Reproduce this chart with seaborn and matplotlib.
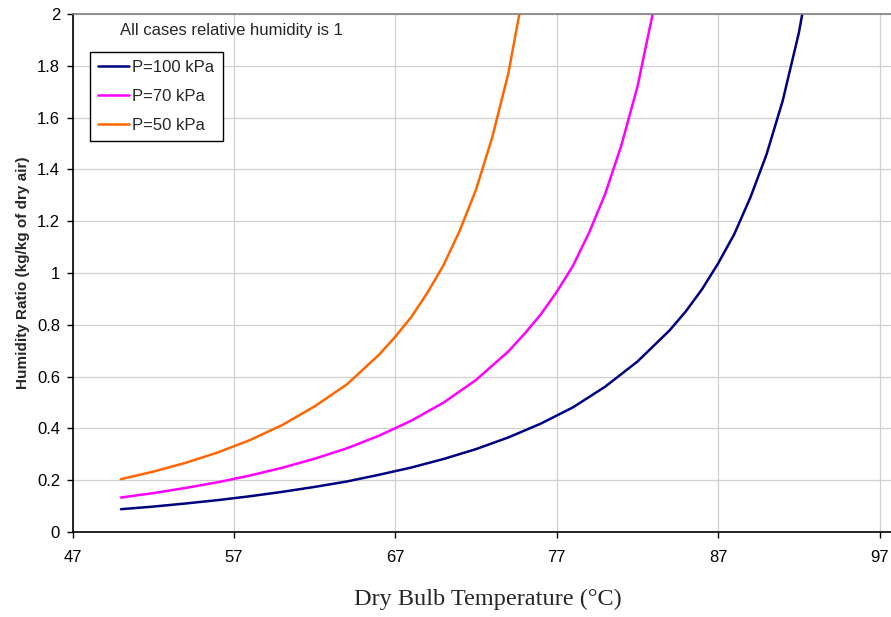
import matplotlib
matplotlib.use('Agg')
import matplotlib.pyplot as plt
import seaborn as sns

# Saturated humidity ratio (relative humidity = 1)
temp_100 = [50, 52, 54, 56, 58, 60, 62, 64, 66, 68, 70, 72, 74, 76, 78, 80, 82, 84, 85, 86, 87, 88, 89, 90, 91, 92, 93]
w_100 = [0.088, 0.098, 0.110, 0.123, 0.138, 0.155, 0.174, 0.195, 0.221, 0.249, 0.282, 0.320, 0.365, 0.418,
         0.481, 0.561, 0.658, 0.779, 0.852, 0.937, 1.037, 1.150, 1.292, 1.458, 1.665, 1.927, 2.27]

temp_70 = [50, 52, 54, 56, 58, 60, 62, 64, 66, 68, 70, 72, 74, 75, 76, 77, 78, 79, 80, 81, 82, 83, 84]
w_70 = [0.133, 0.150, 0.170, 0.192, 0.218, 0.248, 0.283, 0.323, 0.372, 0.430, 0.500, 0.587, 0.697, 0.765,
        0.839, 0.927, 1.027, 1.155, 1.305, 1.492, 1.719, 2.017, 2.40]

temp_50 = [50, 52, 54, 56, 58, 60, 62, 64, 66, 67, 68, 69, 70, 71, 72, 73, 74, 75]
w_50 = [0.204, 0.233, 0.267, 0.307, 0.355, 0.413, 0.485, 0.570, 0.685, 0.754, 0.831, 0.925, 1.032,
        1.165, 1.322, 1.523, 1.770, 2.106]

series = [
    ('P=100 kPa', temp_100, w_100, '#000080'),
    ('P=70 kPa', temp_70, w_70, '#ff00ff'),
    ('P=50 kPa', temp_50, w_50, '#ff6600'),
]

sns.set_style('whitegrid')
plt.rcParams['font.family'] = ['Liberation Sans', 'DejaVu Sans']

fig = plt.figure(figsize=(8.91, 6.17), dpi=100)
ax = fig.add_axes([0.0814, 0.1378, 1.0 - 0.0814, 0.9773 - 0.1378])

for label, t, w, c in series:
    sns.lineplot(x=t, y=w, ax=ax, color=c, linewidth=1.8, label=label)

ax.set_xlim(47, 97.71)
ax.set_ylim(0, 2)
ax.set_xticks([47, 57, 67, 77, 87, 97])
ax.set_yticks([0, 0.2, 0.4, 0.6, 0.8, 1, 1.2, 1.4, 1.6, 1.8, 2])
ax.set_yticklabels(['0', '0.2', '0.4', '0.6', '0.8', '1', '1.2', '1.4', '1.6', '1.8', '2'])

ax.grid(True, color='#d0d0d0', linewidth=0.9)
for side in ['left', 'bottom']:
    ax.spines[side].set_color('black')
    ax.spines[side].set_linewidth(1.2)
ax.spines['right'].set_visible(False)
ax.spines['top'].set_color('#808080')
ax.spines['top'].set_linewidth(1.2)

ax.tick_params(axis='both', which='major', direction='out', length=4, width=1,
               color='black', labelsize=12, labelcolor='black', bottom=True, left=True)
ax.tick_params(axis='x', pad=9)
ax.tick_params(axis='y', pad=5)

ax.set_xlabel('Dry Bulb Temperature (°C)', family=['Liberation Serif', 'DejaVu Serif'],
              fontsize=17.5, labelpad=17)
ax.xaxis.label.set_x(0.508)
ax.set_ylabel('Humidity Ratio (kg/kg of dry air)', fontsize=11, fontweight='bold', labelpad=5)

ax.text(0.058, 0.969, 'All cases relative humidity is 1', transform=ax.transAxes,
        fontsize=12, va='center', ha='left')

leg = ax.legend(loc='upper left', bbox_to_anchor=(0.021, 0.927), borderaxespad=0,
                fancybox=False, framealpha=1, edgecolor='black', fontsize=12,
                handlelength=1.85, handletextpad=0.2, labelspacing=0.83, borderpad=0.5)
leg.get_frame().set_linewidth(1.0)

fig.savefig('out.png', dpi=100)
